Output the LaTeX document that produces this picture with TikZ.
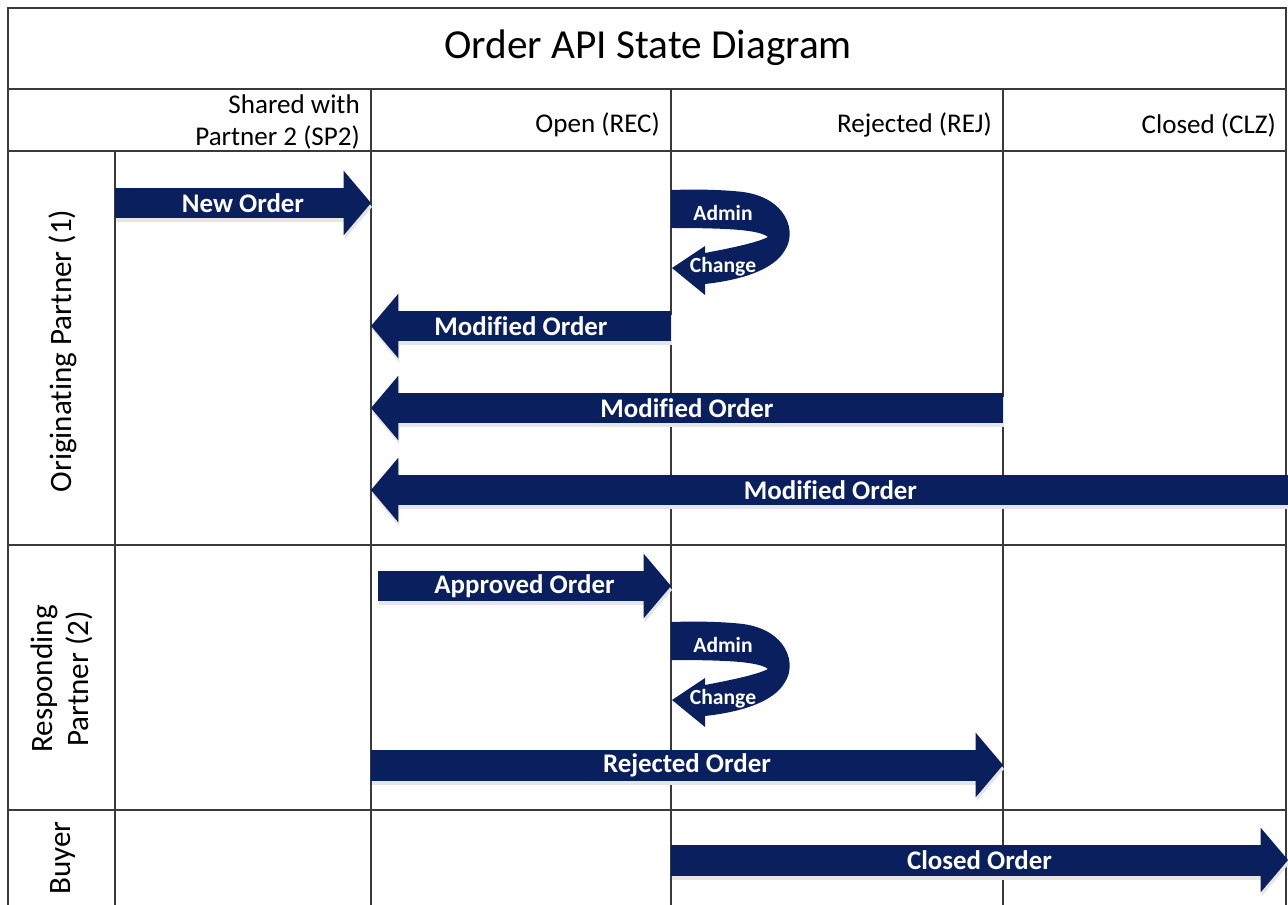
\documentclass[tikz,border=0pt]{standalone}
\usepackage{fontspec}
\setmainfont{Carlito}[Ligatures=CommonOff]
\usetikzlibrary{arrows.meta}

\definecolor{ordernavy}{HTML}{0A1F5E}
\definecolor{gridgray}{HTML}{3A3A3A}

\tikzset{
  gridln/.style={gridgray, line width=1.1pt},
  orderarr/.style={ordernavy, line width=0.62cm, -{Triangle[width=1.3cm,length=0.55cm,line width=0pt]}},
  arrshadow/.style={black!10, line width=0.62cm, -{Triangle[width=1.3cm,length=0.55cm,line width=0pt]}},
  arrlabel/.style={text=white, font=\fontsize{15.3}{18}\selectfont\bfseries},
  looplabel/.style={text=white, font=\fontsize{12.3}{15}\selectfont\bfseries},
  hdr/.style={anchor=east, align=right, font=\fontsize{15.4}{18.4}\selectfont},
  lane/.style={rotate=90, align=center, font=\fontsize{17.7}{20.5}\selectfont},
  adminloop/.pic={
    \fill[ordernavy] (0,0) .. controls (30,-1) and (55,0) .. (72,2)
      .. controls (116,8) and (126,42) .. (114,60)
      .. controls (103,80) and (70,90) .. (34,94)
      -- (34,105) -- (1,78) -- (34,56) -- (34,63)
      .. controls (60,58) and (85,53) .. (97,47)
      .. controls (88,40) and (60,38) .. (0,38) -- cycle;
    \node[looplabel] (-admin) at (52,23) {Admin};
    \node[looplabel] (-change) at (52,77) {Change};
  }
}

\begin{document}
\begin{tikzpicture}[x=0.02cm, y=-0.02cm]
  \useasboundingbox (0,0) rectangle (1288,905);

  % table
  \draw[gridln] (8,905) -- (8,8) -- (1286,8) -- (1286,905);
  \foreach \y in {89,151,545,810}
    \draw[gridln] (8,\y) -- (1286,\y);
  \draw[gridln] (115,151) -- (115,905);
  \foreach \x in {371,671,1003}
    \draw[gridln] (\x,89) -- (\x,905);

  \node[font=\fontsize{23.5}{28}\selectfont] (title) at (648,48) {Order API State Diagram};

  \node[hdr] (sp2) at (366,122) {Shared with\\Partner 2 (SP2)};
  \node[hdr] (rec) at (666,125) {Open (REC)};
  \node[hdr] (rej) at (998,125) {Rejected (REJ)};
  \node[hdr] (clz) at (1282,125) {Closed (CLZ)};

  \node[lane] (orig) at (63,351) {Originating Partner (1)};
  \node[lane] (resp) at (62,679) {Responding\\Partner (2)};
  \node[lane] (buyer) at (63,858) {Buyer};

  % arrow ends
  \coordinate (new-s) at (115,203);
  \coordinate (new-e) at (371,203);
  \coordinate (mod1-s) at (671,326);
  \coordinate (mod1-e) at (371,326);
  \coordinate (mod2-s) at (1003,408);
  \coordinate (mod2-e) at (371,408);
  \coordinate (mod3-s) at (1290,490);
  \coordinate (mod3-e) at (371,490);
  \coordinate (appr-s) at (378,586);
  \coordinate (appr-e) at (671,586);
  \coordinate (rejo-s) at (371,765);
  \coordinate (rejo-e) at (1003,765);
  \coordinate (clzo-s) at (671,860);
  \coordinate (clzo-e) at (1288,860);

  \foreach \from/\to/\txt in {new-s/new-e/New Order, mod1-s/mod1-e/Modified Order,
      mod2-s/mod2-e/Modified Order, mod3-s/mod3-e/Modified Order,
      appr-s/appr-e/Approved Order, rejo-s/rejo-e/Rejected Order,
      clzo-s/clzo-e/Closed Order} {
    \draw[arrshadow] ([shift={(1,4)}]\from) -- ([shift={(1,4)}]\to);
    \draw[orderarr] (\from) -- (\to) node[midway, arrlabel] (\from-txt) {\txt};
  }

  \pic (loopone) at (671,190) {adminloop};
  \pic (looptwo) at (671,622) {adminloop};
\end{tikzpicture}
\end{document}
